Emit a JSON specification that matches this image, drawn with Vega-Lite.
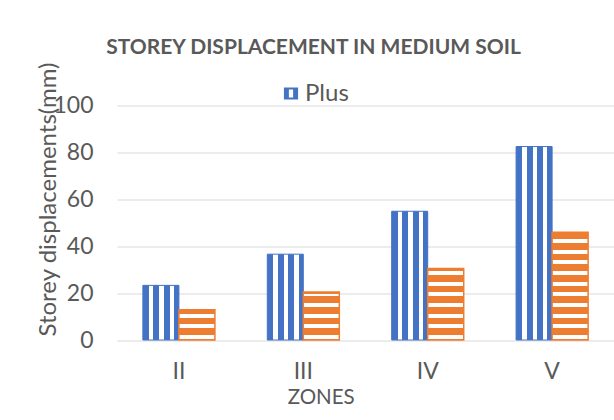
{
  "$schema": "https://vega.github.io/schema/vega-lite/v6.json",
  "width": 497,
  "height": 234.5,
  "autosize": "none",
  "padding": {"left": 117, "top": 105.5, "right": 0, "bottom": 79.5},
  "background": "white",
  "config": {
    "view": {"stroke": null},
    "font": "Lato",
    "axis": {"labelFont": "Lato", "titleFont": "Lato", "labelColor": "#595959", "titleColor": "#595959", "labelFontSize": 23, "titleFontSize": 24, "titleFontWeight": "normal"}
  },
  "title": {
    "text": "STOREY DISPLACEMENT IN MEDIUM SOIL",
    "font": "Lato",
    "fontSize": 21,
    "fontWeight": "bold",
    "color": "#595959",
    "anchor": "middle",
    "frame": "group",
    "dx": -52,
    "dy": 20,
    "baseline": "alphabetic",
    "offset": 7
  },
  "data": {
    "values": [
      {"zone": "II", "series": "Plus", "value": 23.3},
      {"zone": "II", "series": "Series2", "value": 12.9},
      {"zone": "III", "series": "Plus", "value": 36.6},
      {"zone": "III", "series": "Series2", "value": 20.5},
      {"zone": "IV", "series": "Plus", "value": 54.9},
      {"zone": "IV", "series": "Series2", "value": 30.5},
      {"zone": "V", "series": "Plus", "value": 82.5},
      {"zone": "V", "series": "Series2", "value": 46.0}
    ]
  },
  "encoding": {
    "x": {
      "field": "zone", "type": "nominal", "sort": ["II", "III", "IV", "V"],
      "scale": {"paddingInner": 0.421, "paddingOuter": 0.208, "align": 0.5},
      "axis": {"title": "ZONES", "titleFontSize": 20.5, "labelAngle": 0, "domain": false, "ticks": false, "labelPadding": 20, "titleX": 203.7, "titleY": 57, "titleBaseline": "middle", "titleAlign": "center"}
    },
    "xOffset": {"field": "series", "type": "nominal", "scale": {"domain": ["Plus", "Series2"], "paddingInner": 0, "paddingOuter": 0}},
    "y": {
      "field": "value", "type": "quantitative",
      "scale": {"domain": [0, 100], "nice": false},
      "axis": {"title": "Storey displacements(mm)", "values": [0, 20, 40, 60, 80, 100], "domain": false, "ticks": false, "labelPadding": 24, "gridColor": "#d9d9d9", "gridWidth": 1, "titleX": -69, "titleY": 93.5, "titleAngle": -90, "titleBaseline": "middle", "titleAlign": "center"}
    }
  },
  "layer": [
    {
      "transform": [{"filter": "datum.series === 'Plus'"}],
      "mark": {"type": "point", "filled": true, "color": "#4472C4", "opacity": 1, "size": 40},
      "encoding": {
        "y": {"datum": 6},
        "shape": {
          "field": "series", "type": "nominal",
          "scale": {"domain": ["Plus"], "range": ["M-1,-0.85H1V0.85H-1Z M-0.3,-0.55V0.55H0.3V-0.55Z"]},
          "legend": {
            "orient": "none", "legendX": 162, "legendY": -24, "title": null,
            "symbolSize": 200, "symbolStrokeWidth": 0, "symbolFillColor": "#4472C4",
            "labelFont": "Lato", "labelFontSize": 24, "labelColor": "#595959", "labelOffset": 2, "padding": 0
          }
        }
      }
    },
    {
      "transform": [{"filter": "datum.series === 'Plus'"}],
      "mark": {
        "type": "bar",
        "stroke": "#4472C4",
        "strokeWidth": 1,
        "fill": {"gradient": "linear", "x1": 0, "x2": 1, "y1": 0, "y2": 0, "stops": [
          {"offset": 0, "color": "#4472C4"}, {"offset": 0.17, "color": "#4472C4"},
          {"offset": 0.17, "color": "#ffffff"}, {"offset": 0.29, "color": "#ffffff"},
          {"offset": 0.29, "color": "#4472C4"}, {"offset": 0.46, "color": "#4472C4"},
          {"offset": 0.46, "color": "#ffffff"}, {"offset": 0.58, "color": "#ffffff"},
          {"offset": 0.58, "color": "#4472C4"}, {"offset": 0.75, "color": "#4472C4"},
          {"offset": 0.75, "color": "#ffffff"}, {"offset": 0.87, "color": "#ffffff"},
          {"offset": 0.87, "color": "#4472C4"}, {"offset": 1, "color": "#4472C4"}
        ]}
      }
    },
    {
      "transform": [{"filter": "datum.series === 'Series2' && datum.zone === 'II'"}],
      "mark": {
        "type": "bar", "stroke": "#ED7D31", "strokeWidth": 1.5,
        "fill": {"gradient": "linear", "x1": 0, "x2": 0, "y1": 0, "y2": 1, "stops": [
          {"offset": 0, "color": "#ED7D31"}, {"offset": 0.1291, "color": "#ED7D31"},
          {"offset": 0.1291, "color": "#ffffff"}, {"offset": 0.2611, "color": "#ffffff"},
          {"offset": 0.2611, "color": "#ED7D31"}, {"offset": 0.4821, "color": "#ED7D31"},
          {"offset": 0.4821, "color": "#ffffff"}, {"offset": 0.6141, "color": "#ffffff"},
          {"offset": 0.6141, "color": "#ED7D31"}, {"offset": 0.8351, "color": "#ED7D31"},
          {"offset": 0.8351, "color": "#ffffff"}, {"offset": 0.967, "color": "#ffffff"},
          {"offset": 0.967, "color": "#ED7D31"}, {"offset": 1, "color": "#ED7D31"}
        ]}
      }
    },
    {
      "transform": [{"filter": "datum.series === 'Series2' && datum.zone === 'III'"}],
      "mark": {
        "type": "bar", "stroke": "#ED7D31", "strokeWidth": 1.5,
        "fill": {"gradient": "linear", "x1": 0, "x2": 0, "y1": 0, "y2": 1, "stops": [
          {"offset": 0, "color": "#ED7D31"}, {"offset": 0.04, "color": "#ED7D31"},
          {"offset": 0.04, "color": "#ffffff"}, {"offset": 0.0908, "color": "#ffffff"},
          {"offset": 0.0908, "color": "#ED7D31"}, {"offset": 0.2299, "color": "#ED7D31"},
          {"offset": 0.2299, "color": "#ffffff"}, {"offset": 0.3129, "color": "#ffffff"},
          {"offset": 0.3129, "color": "#ED7D31"}, {"offset": 0.452, "color": "#ED7D31"},
          {"offset": 0.452, "color": "#ffffff"}, {"offset": 0.535, "color": "#ffffff"},
          {"offset": 0.535, "color": "#ED7D31"}, {"offset": 0.6741, "color": "#ED7D31"},
          {"offset": 0.6741, "color": "#ffffff"}, {"offset": 0.7571, "color": "#ffffff"},
          {"offset": 0.7571, "color": "#ED7D31"}, {"offset": 0.8962, "color": "#ED7D31"},
          {"offset": 0.8962, "color": "#ffffff"}, {"offset": 0.9792, "color": "#ffffff"},
          {"offset": 0.9792, "color": "#ED7D31"}, {"offset": 1, "color": "#ED7D31"}
        ]}
      }
    },
    {
      "transform": [{"filter": "datum.series === 'Series2' && datum.zone === 'IV'"}],
      "mark": {
        "type": "bar", "stroke": "#ED7D31", "strokeWidth": 1.5,
        "fill": {"gradient": "linear", "x1": 0, "x2": 0, "y1": 0, "y2": 1, "stops": [
          {"offset": 0, "color": "#ED7D31"}, {"offset": 0.0345, "color": "#ED7D31"},
          {"offset": 0.0345, "color": "#ffffff"}, {"offset": 0.0903, "color": "#ffffff"},
          {"offset": 0.0903, "color": "#ED7D31"}, {"offset": 0.1838, "color": "#ED7D31"},
          {"offset": 0.1838, "color": "#ffffff"}, {"offset": 0.2396, "color": "#ffffff"},
          {"offset": 0.2396, "color": "#ED7D31"}, {"offset": 0.3331, "color": "#ED7D31"},
          {"offset": 0.3331, "color": "#ffffff"}, {"offset": 0.3889, "color": "#ffffff"},
          {"offset": 0.3889, "color": "#ED7D31"}, {"offset": 0.4824, "color": "#ED7D31"},
          {"offset": 0.4824, "color": "#ffffff"}, {"offset": 0.5382, "color": "#ffffff"},
          {"offset": 0.5382, "color": "#ED7D31"}, {"offset": 0.6317, "color": "#ED7D31"},
          {"offset": 0.6317, "color": "#ffffff"}, {"offset": 0.6875, "color": "#ffffff"},
          {"offset": 0.6875, "color": "#ED7D31"}, {"offset": 0.781, "color": "#ED7D31"},
          {"offset": 0.781, "color": "#ffffff"}, {"offset": 0.8368, "color": "#ffffff"},
          {"offset": 0.8368, "color": "#ED7D31"}, {"offset": 0.9302, "color": "#ED7D31"},
          {"offset": 0.9302, "color": "#ffffff"}, {"offset": 0.986, "color": "#ffffff"},
          {"offset": 0.986, "color": "#ED7D31"}, {"offset": 1, "color": "#ED7D31"}
        ]}
      }
    },
    {
      "transform": [{"filter": "datum.series === 'Series2' && datum.zone === 'V'"}],
      "mark": {
        "type": "bar", "stroke": "#ED7D31", "strokeWidth": 1.5,
        "fill": {"gradient": "linear", "x1": 0, "x2": 0, "y1": 0, "y2": 1, "stops": [
          {"offset": 0, "color": "#ED7D31"}, {"offset": 0.0629, "color": "#ED7D31"},
          {"offset": 0.0629, "color": "#ffffff"}, {"offset": 0.0999, "color": "#ffffff"},
          {"offset": 0.0999, "color": "#ED7D31"}, {"offset": 0.1619, "color": "#ED7D31"},
          {"offset": 0.1619, "color": "#ffffff"}, {"offset": 0.1989, "color": "#ffffff"},
          {"offset": 0.1989, "color": "#ED7D31"}, {"offset": 0.2609, "color": "#ED7D31"},
          {"offset": 0.2609, "color": "#ffffff"}, {"offset": 0.2979, "color": "#ffffff"},
          {"offset": 0.2979, "color": "#ED7D31"}, {"offset": 0.3599, "color": "#ED7D31"},
          {"offset": 0.3599, "color": "#ffffff"}, {"offset": 0.3969, "color": "#ffffff"},
          {"offset": 0.3969, "color": "#ED7D31"}, {"offset": 0.4588, "color": "#ED7D31"},
          {"offset": 0.4588, "color": "#ffffff"}, {"offset": 0.4958, "color": "#ffffff"},
          {"offset": 0.4958, "color": "#ED7D31"}, {"offset": 0.5578, "color": "#ED7D31"},
          {"offset": 0.5578, "color": "#ffffff"}, {"offset": 0.5948, "color": "#ffffff"},
          {"offset": 0.5948, "color": "#ED7D31"}, {"offset": 0.6568, "color": "#ED7D31"},
          {"offset": 0.6568, "color": "#ffffff"}, {"offset": 0.6938, "color": "#ffffff"},
          {"offset": 0.6938, "color": "#ED7D31"}, {"offset": 0.7558, "color": "#ED7D31"},
          {"offset": 0.7558, "color": "#ffffff"}, {"offset": 0.7928, "color": "#ffffff"},
          {"offset": 0.7928, "color": "#ED7D31"}, {"offset": 0.8548, "color": "#ED7D31"},
          {"offset": 0.8548, "color": "#ffffff"}, {"offset": 0.8918, "color": "#ffffff"},
          {"offset": 0.8918, "color": "#ED7D31"}, {"offset": 0.9537, "color": "#ED7D31"},
          {"offset": 0.9537, "color": "#ffffff"}, {"offset": 0.9907, "color": "#ffffff"},
          {"offset": 0.9907, "color": "#ED7D31"}, {"offset": 1, "color": "#ED7D31"}
        ]}
      }
    }
  ]
}
